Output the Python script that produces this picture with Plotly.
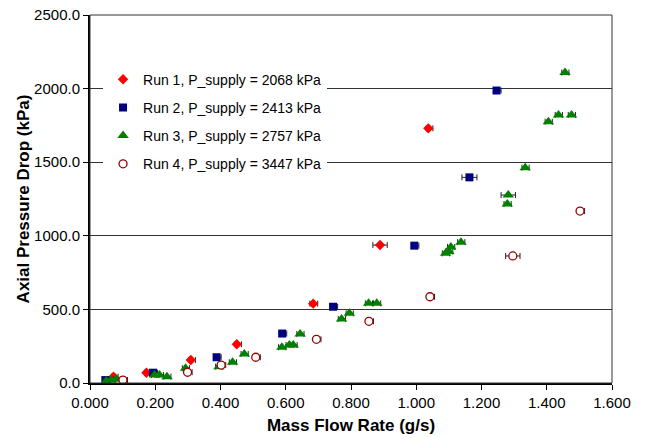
import plotly.graph_objects as go

# ---- data (mass flow g/s, axial pressure drop kPa, x-error plus/minus g/s) ----
run1_x = [0.072, 0.173, 0.309, 0.450, 0.684, 0.889, 1.037]
run1_y = [43, 70, 156, 263, 539, 937, 1730]
run1_ep = [0.014, 0.014, 0.014, 0.014, 0.014, 0.022, 0.014]
run1_em = [0.006, 0.006, 0.006, 0.006, 0.010, 0.022, 0.006]

run2_x = [0.047, 0.193, 0.388, 0.589, 0.745, 0.994, 1.163, 1.246]
run2_y = [20, 70, 175, 336, 518, 933, 1397, 1987]
run2_ep = [0.014, 0.014, 0.014, 0.014, 0.014, 0.014, 0.023, 0.014]
run2_em = [0.004, 0.004, 0.004, 0.004, 0.004, 0.004, 0.023, 0.004]

run3_x = [0.050, 0.065, 0.081, 0.198, 0.213, 0.236, 0.293, 0.395, 0.437, 0.473,
          0.588, 0.611, 0.623, 0.644, 0.771, 0.795, 0.854, 0.879,
          1.090, 1.100, 1.106, 1.137, 1.279, 1.282, 1.334, 1.405, 1.436, 1.476, 1.456]
run3_y = [14, 20, 25, 54, 54, 43, 100, 111, 141, 197,
          243, 258, 258, 333, 435, 473, 541, 541,
          881, 893, 924, 957, 1216, 1277, 1463, 1775, 1821, 1821, 2109]
run3_ep = [0.012] * 23 + [0.022] + [0.012] * 5
run3_em = [0.010] * 23 + [0.022] + [0.010] * 5

run4_x = [0.101, 0.299, 0.402, 0.508, 0.694, 0.855, 1.042, 1.296, 1.502]
run4_y = [20, 73, 122, 175, 297, 419, 586, 863, 1168]
run4_ep = [0.014, 0.014, 0.014, 0.014, 0.014, 0.014, 0.014, 0.022, 0.014]
run4_em = [0.003, 0.003, 0.003, 0.003, 0.003, 0.003, 0.003, 0.022, 0.003]

names = ["Run 1, P_supply = 2068 kPa", "Run 2, P_supply = 2413 kPa",
         "Run 3, P_supply = 2757 kPa", "Run 4, P_supply = 3447 kPa"]

x_ticks = [0.0, 0.2, 0.4, 0.6, 0.8, 1.0, 1.2, 1.4, 1.6]
y_ticks = [0, 500, 1000, 1500, 2000, 2500]

FONT = "Liberation Sans, Arial, Helvetica, sans-serif"

def err(p, m):
    return dict(type="data", symmetric=False, array=p, arrayminus=m,
                color="#222222", thickness=1, width=3)

fig = go.Figure()
fig.add_trace(go.Scatter(x=run1_x, y=run1_y, mode="markers", name=names[0],
                         legendgroup="g1", error_x=err(run1_ep, run1_em), cliponaxis=False,
                         marker=dict(symbol="diamond", size=8, color="#FF0000")))
fig.add_trace(go.Scatter(x=run2_x, y=run2_y, mode="markers", name=names[1],
                         legendgroup="g2", error_x=err(run2_ep, run2_em), cliponaxis=False,
                         marker=dict(symbol="square", size=8, color="#000080")))
fig.add_trace(go.Scatter(x=run3_x, y=run3_y, mode="markers", name=names[2],
                         legendgroup="g3", error_x=err(run3_ep, run3_em), cliponaxis=False,
                         marker=dict(symbol="triangle-up", size=10, color="#008000")))
fig.add_trace(go.Scatter(x=run4_x, y=run4_y, mode="markers", name=names[3],
                         legendgroup="g4", error_x=err(run4_ep, run4_em), cliponaxis=False,
                         marker=dict(symbol="circle", size=8, color="white",
                                     line=dict(color="#990000", width=1.3))))

fig.update_layout(
    width=648, height=438,
    margin=dict(l=90, r=36, t=15, b=55),
    paper_bgcolor="white", plot_bgcolor="white",
    font=dict(family=FONT, size=15, color="black"),
    showlegend=True,
    legend=dict(x=0.025, y=0.868, xanchor="left", yanchor="top",
                bgcolor="white", borderwidth=0, tracegroupgap=7,
                font=dict(family=FONT, size=14, color="black")),
    xaxis=dict(range=[0, 1.6], tickvals=x_ticks, tickformat=".3f",
               showgrid=False, zeroline=False, automargin=False,
               showline=True, linecolor="black", linewidth=2,
               ticks="outside", ticklen=5, tickcolor="black",
               tickfont=dict(size=15),
               title=dict(text="<b>Mass Flow Rate (g/s)</b>", font=dict(size=17), standoff=9)),
    yaxis=dict(range=[0, 2500], tickvals=y_ticks, tickformat=".1f",
               showgrid=True, gridcolor="#333333", gridwidth=1.2,
               zeroline=False, automargin=False,
               showline=True, linecolor="black", linewidth=2,
               ticks="outside", ticklen=5, tickcolor="black",
               tickfont=dict(size=15),
               title=dict(text="<b>Axial Pressure Drop (kPa)</b>", font=dict(size=17), standoff=0)),
    shapes=[dict(type="rect", xref="paper", yref="paper", x0=0, y0=0, x1=1, y1=1,
                 line=dict(color="#333333", width=1), layer="above")],
)

fig.write_html("out.html")
